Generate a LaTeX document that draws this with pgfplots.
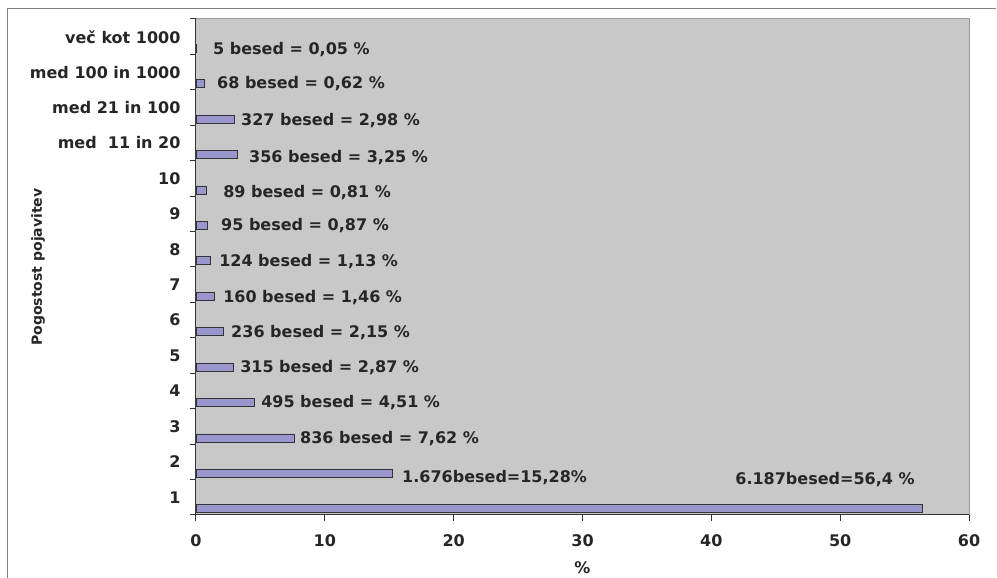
\documentclass[border=0pt]{standalone}
\usepackage{fontspec}
\setmainfont{DejaVu Sans}
\usepackage{pgfplots}
\pgfplotsset{compat=1.18}
\definecolor{plotbg}{RGB}{200,200,200}
\definecolor{barfill}{RGB}{153,150,206}
\definecolor{framegray}{RGB}{128,128,128}
\definecolor{txt}{RGB}{38,38,38}
\newcommand\lbl{\fontsize{16}{19}\selectfont\bfseries}
\begin{document}
\begin{tikzpicture}
\useasboundingbox (0pt,0pt) rectangle (997pt,578pt);
\draw[framegray, line width=1pt] (7pt,0pt) -- (7pt,569pt) -- (996pt,569pt);
\begin{axis}[
  at={(196pt,63pt)}, anchor=south west,
  scale only axis, width=773pt, height=496pt,
  xmin=0, xmax=60, ymin=0.5, ymax=14.5,
  axis x line*=bottom, axis y line*=left,
  axis line style={draw=black!80, line width=1pt, -},
  axis background/.style={fill=plotbg, draw=black!40, line width=1pt},
  tick align=outside,
  major tick length=6pt,
  tick style={black!80, line width=1pt},
  xtick={0,10,...,60},
  ytick={0.5,1.5,...,14.5},
  yticklabels={1,2,3,4,5,6,7,8,9,10,med~ 11 in 20,med 21 in 100,med 100 in 1000,več kot 1000,{}},
  /pgf/number format/assume math mode=true,
  tick label style={font=\lbl, text=txt},
  yticklabel style={yshift=17.7pt, xshift=-6pt},
  xticklabel style={yshift=-10.5pt},
  every axis x label/.style={at={(axis description cs:0.5,-0.107)}, anchor=center, font=\lbl, text=txt},
  every axis y label/.style={at={(axis description cs:-0.2044,0.5)}, anchor=center, rotate=90, font=\fontsize{14}{17}\selectfont\bfseries, text=txt},
  xlabel={\%},
  ylabel={Pogostost pojavitev},
  clip=false,
]
\addplot[xbar, bar width=8pt, fill=barfill, draw=black!80, line width=0.8pt]
  coordinates {
    (56.4,0.675) (15.28,1.675) (7.62,2.675) (4.51,3.675) (2.87,4.675)
    (2.15,5.675) (1.46,6.675) (1.13,7.675) (0.87,8.675) (0.81,9.675)
    (3.25,10.675) (2.98,11.675) (0.62,12.675) (0.05,13.675)
  };
\addplot[draw=none, mark=none, nodes near coords, point meta=explicit symbolic,
  nodes near coords align={anchor=west},
  every node near coord/.append style={inner sep=0pt, font=\lbl, text=txt}]
  coordinates {
    (41.85,1.49) [6.187besed=56,4 \%]
    (15.99,1.55) [1.676besed=15,28\%]
    (8.07,2.65) [836 besed = 7,62 \%]
    (5.05,3.66) [495 besed = 4,51 \%]
    (3.42,4.66) [315 besed = 2,87 \%]
    (2.72,5.64) [236 besed = 2,15 \%]
    (2.10,6.65) [160 besed = 1,46 \%]
    (1.79,7.64) [124 besed = 1,13 \%]
    (1.94,8.66) [95 besed = 0,87 \%]
    (2.10,9.59) [89 besed = 0,81 \%]
    (4.11,10.60) [356 besed = 3,25 \%]
    (3.49,11.62) [327 besed = 2,98 \%]
    (1.63,12.69) [68 besed = 0,62 \%]
    (1.32,13.65) [5 besed = 0,05 \%]
  };
\end{axis}
\end{tikzpicture}
\end{document}
